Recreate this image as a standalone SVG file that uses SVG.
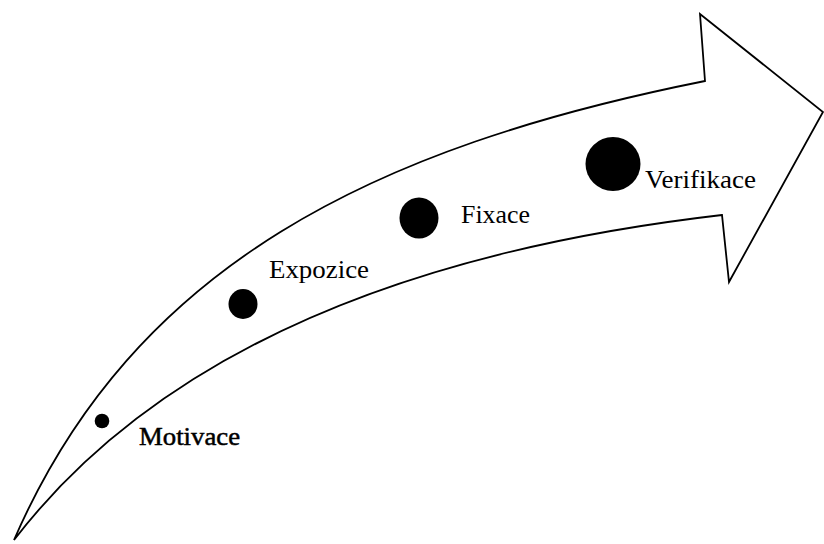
<svg xmlns="http://www.w3.org/2000/svg" width="824" height="544" viewBox="0 0 824 544">
  <style>
    .arrow { fill: #ffffff; stroke: #000000; stroke-width: 1.8; stroke-linejoin: miter; }
    .dot { fill: #000000; }
    .label { font-family: 'Liberation Serif', 'Times New Roman', Times, Tinos, 'DejaVu Serif', 'Noto Serif', serif; font-size: 26px; fill: #000000; }
  </style>
  <rect width="824" height="544" fill="#ffffff"/>

  <!-- curved block arrow -->
  <g id="connectors">
    <path class="arrow" d="M14,540 C134,264 375,147 705,81 L700,14 L823,112 L729,282 L722,215 C419,250 164,345 14,540 Z"/>
  </g>

  <g id="motivace">
    <circle class="dot" cx="102" cy="421" r="7.3"/>
    <text class="label" x="139" y="445" textLength="101" lengthAdjust="spacingAndGlyphs" stroke="#000" stroke-width="0.5">Motivace</text>
  </g>

  <g id="expozice">
    <ellipse class="dot" cx="243" cy="304" rx="14.5" ry="15"/>
    <text class="label" x="269" y="278" textLength="100" lengthAdjust="spacingAndGlyphs">Expozice</text>
  </g>

  <g id="fixace">
    <ellipse class="dot" cx="419" cy="218" rx="19.5" ry="20.5"/>
    <text class="label" x="461" y="223" textLength="69" lengthAdjust="spacingAndGlyphs">Fixace</text>
  </g>

  <g id="verifikace">
    <ellipse class="dot" cx="613" cy="164" rx="27.5" ry="27"/>
    <text class="label" x="645" y="188" textLength="111" lengthAdjust="spacingAndGlyphs">Verifikace</text>
  </g>
</svg>
